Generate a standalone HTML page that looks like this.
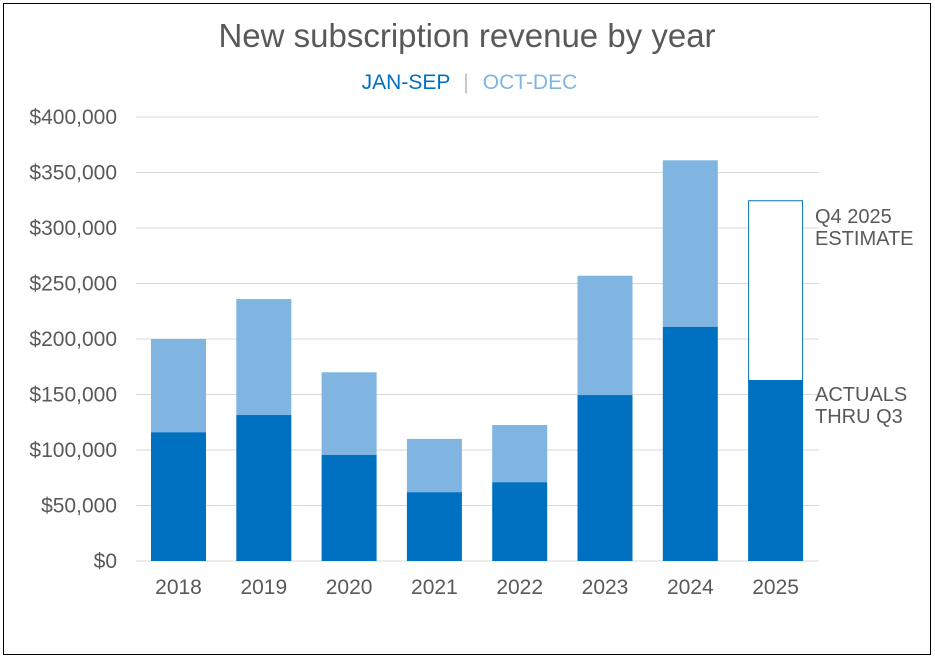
<!DOCTYPE html>
<html><head><meta charset="utf-8"><style>
body{margin:0;background:#fff;}
svg{display:block;font-family:"Liberation Sans",Arial,sans-serif;}
</style></head><body>
<svg id="chart" width="935" height="659">
<rect x="3.5" y="3.5" width="927" height="651" fill="#fff" stroke="#000" stroke-width="1"/>
<text x="467" y="47" text-anchor="middle" font-size="33" fill="#595959">New subscription revenue by year</text>
<g>
<text x="406" y="89" text-anchor="middle" font-size="21" fill="#0070C0">JAN-SEP</text>
<text x="466" y="89" text-anchor="middle" font-size="21" fill="#BFBFBF">|</text>
<text x="530" y="89" text-anchor="middle" font-size="21" fill="#7FB5E0">OCT-DEC</text>
</g>
<g id="grid"></g><g id="bars"></g><g id="labels"></g>
<text x="815" y="223" font-size="20" fill="#595959"><tspan x="815">Q4 2025</tspan><tspan x="815" dy="22">ESTIMATE</tspan></text>
<text x="815" y="401" font-size="20" fill="#595959"><tspan x="815">ACTUALS</tspan><tspan x="815" dy="22">THRU Q3</tspan></text>
</svg>
<script>
const categories=["2018","2019","2020","2021","2022","2023","2024","2025"];
const janSep=[116000,131500,95500,62000,71000,149500,211000,163000];
const octDec=[84000,104500,74500,48000,51500,107500,150000,162000];
const estimateFlags=[false,false,false,false,false,false,false,true];
const yTicks=[0,50000,100000,150000,200000,250000,300000,350000,400000];
const NS="http://www.w3.org/2000/svg";
const y0=561,y1=117,yMax=400000,x0=136,step=85.3,barW=55,firstX=151;
const y=v=>y0-(v/yMax)*(y0-y1);
const x=i=>firstX+i*step;
function mk(t,a,p){const e=document.createElementNS(NS,t);for(const k in a)e.setAttribute(k,a[k]);p.appendChild(e);return e;}
const grid=document.getElementById('grid'),bars=document.getElementById('bars'),labels=document.getElementById('labels');
yTicks.forEach(v=>{
 const l=mk('line',{x1:x0,x2:819,y1:y(v),y2:y(v),stroke:'#D9D9D9','stroke-width':1},grid);
 
 
 const t=mk('text',{x:117,y:y(v)+7,'text-anchor':'end','font-size':21,fill:'#595959'},labels);
 t.textContent='$'+v.toLocaleString('en-US');
 
 
});
categories.forEach((c,i)=>{
 const top=janSep[i]+octDec[i];
 let r2;
 if(estimateFlags[i]) r2=mk('rect',{x:x(i)+0.5,y:y(top)+0.5,width:barW-1,height:y(janSep[i])-y(top),fill:'#fff',stroke:'#0070C0','stroke-width':1},bars);
 else r2=mk('rect',{x:x(i),y:y(top),width:barW,height:y(janSep[i])-y(top),fill:'#7FB5E0'},bars);
 
 
 const r1=mk('rect',{x:x(i),y:y(janSep[i]),width:barW,height:y0-y(janSep[i]),fill:'#0070C0'},bars);
 
 
 const t=mk('text',{x:x(i)+barW/2,y:594,'text-anchor':'middle','font-size':21,fill:'#595959'},labels);
 t.textContent=c;
 
 
});
</script>
</body></html>
